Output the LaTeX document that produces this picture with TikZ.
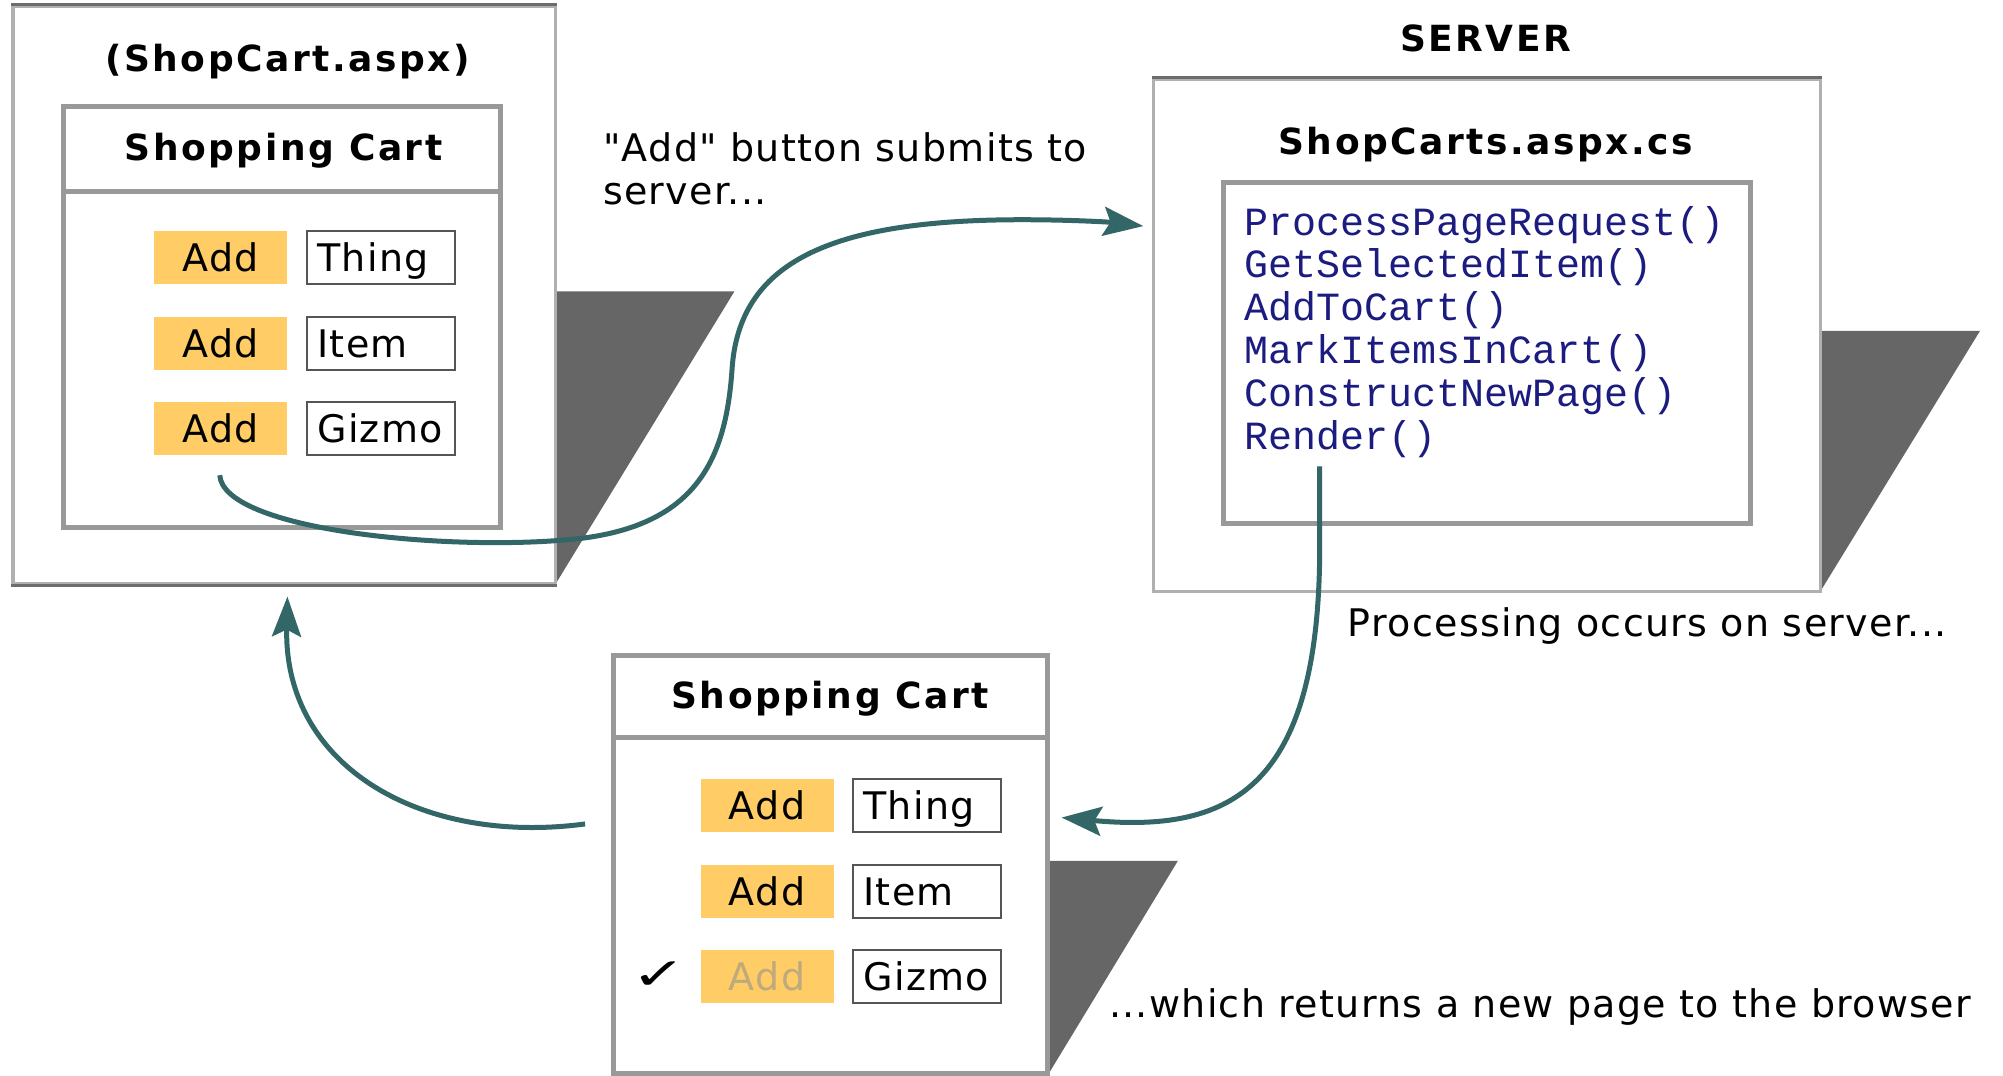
\documentclass[tikz,border=0pt]{standalone}
\usepackage{fontspec}
\setmainfont{DejaVu Sans}
\newfontfamily\vreg[LetterSpace=3.5]{DejaVu Sans}
\newfontfamily\vbold[LetterSpace=7]{DejaVu Sans Bold}
\newfontfamily\vmono{Liberation Mono}
\usetikzlibrary{fit,arrows.meta}
\definecolor{btnc}{RGB}{255,204,102}
\definecolor{arrowc}{RGB}{51,102,102}
\definecolor{codec}{RGB}{28,28,128}
\definecolor{shadc}{RGB}{102,102,102}
\definecolor{lbord}{RGB}{176,176,176}
\definecolor{dbord}{RGB}{108,108,108}
\definecolor{ibord}{RGB}{153,153,153}
\definecolor{itembord}{RGB}{85,85,85}
\definecolor{fadec}{RGB}{190,170,125}
\begin{document}
\begin{tikzpicture}[x=1.2774pt,y=-1.2774pt,
  page/.style={draw=lbord,line width=3.5pt,fill=white,inner sep=0pt},
  cartbox/.style={draw=ibord,line width=5pt,fill=white,inner sep=0pt},
  btn/.style={fill=btnc,minimum width=133pt,minimum height=53pt,inner sep=0pt,text height=31pt,text depth=3pt,font=\vreg\fontsize{38}{40}\selectfont},
  itembox/.style={draw=itembord,line width=2pt,fill=white,minimum height=53pt,text width=128pt,inner xsep=10pt,inner ysep=0pt,text height=31pt,text depth=3pt,align=left,font=\vreg\fontsize{38}{40}\selectfont},
  title/.style={font=\vbold\fontsize{36}{40}\selectfont},
  lbl/.style={font=\vreg\fontsize{38}{43.5}\selectfont,align=left,anchor=west,inner sep=0pt},
  code/.style={font=\vmono\fontsize{40}{43}\selectfont,text=codec,anchor=west,inner sep=0pt},
  conn/.style={draw=arrowc,line width=5pt,-{Stealth[length=40pt,width=29pt,inset=7pt]}},
  shad/.style={fill=shadc}]
\useasboundingbox (0,0) rectangle (1568,842);

% shadows
\fill[shad] (435,228) -- (575,228) -- (435,457) -- cycle;
\fill[shad] (1425,259) -- (1550,259) -- (1425,463) -- cycle;
\fill[shad] (820,674) -- (922,674) -- (820,842) -- cycle;

% client page
\node[page,fit={(10,5)(435,457)}] (client) {};
\draw[dbord,line width=3.5pt] (client.north west) -- (client.north east);
\draw[dbord,line width=3.5pt] (client.south west) -- (client.south east);
\node[title] (ctitle) at (225,48) {(ShopCart.aspx)};
\node[cartbox,fit={(50,83)(392,413)}] (cart1) {};
\draw[ibord,line width=5pt] (50,150) -- (392,150);
\node[title] (cart1t) at (222,118) {Shopping Cart};
\node[btn] (add1) at (173,201.5) {Add};
\node[btn] (add2) at (173,269) {Add};
\node[btn] (add3) at (173,335.5) {Add};
\node[itembox] (it1) at (298.5,201.5) {Thing};
\node[itembox] (it2) at (298.5,269) {Item};
\node[itembox] (it3) at (298.5,335.5) {Gizmo};

% label 1
\node[lbl] (lab1) at (472,132) {"Add" button submits to\\server...};

% server
\node[title] (srvlab) at (1163,30) {SERVER};
\node[page,fit={(903,62)(1425,463)}] (server) {};
\draw[dbord,line width=3.5pt] (server.north west) -- (server.north east);
\node[title] (stitle) at (1163,113) {ShopCarts.aspx.cs};
\node[cartbox,fit={(958,143)(1370,410)}] (codebox) {};
\node[code] (m1) at (974,176) {ProcessPageRequest()};
\node[code] (m2) at (974,209.5) {GetSelectedItem()};
\node[code] (m3) at (974,243) {AddToCart()};
\node[code] (m4) at (974,276.5) {MarkItemsInCart()};
\node[code] (m5) at (974,310) {ConstructNewPage()};
\node[code] (m6) at (974,343.5) {Render()};
\node[lbl] (lab2) at (1055,490) {Processing occurs on server...};

% new page
\node[cartbox,fit={(480,513)(820,840)}] (cart2) {};
\draw[ibord,line width=5pt] (480,577) -- (820,577);
\node[title] (cart2t) at (650,547) {Shopping Cart};
\node[btn] (badd1) at (600.5,630.5) {Add};
\node[btn] (badd2) at (600.5,697.5) {Add};
\node[btn,text=fadec] (badd3) at (600.5,764.5) {Add};
\node[itembox] (bit1) at (726,630.5) {Thing};
\node[itembox] (bit2) at (726,697.5) {Item};
\node[itembox] (bit3) at (726,764.5) {Gizmo};
\node[font=\fontsize{44}{44}\selectfont,inner sep=0pt] (check) at (516,764) {\scalebox{1.5}[1]{✓}};
\node[lbl] (lab3) at (868,788) {...which returns a new page to the browser};

% connectors
\coordinate (s1) at (172,372);
\coordinate (e1) at (895,177);
\draw[conn] (s1) .. controls (175,415) and (350,432) .. (450,422)
  .. controls (545,412) and (568,360) .. (573,290)
  .. controls (578,205) and (650,172) .. (800,172)
  .. controls (840,172) and (870,174) .. (e1);
\coordinate (s2) at (1033,365);
\coordinate (m2a) at (1033,440);
\coordinate (e2) at (831,640);
\draw[conn] (s2) -- (m2a) .. controls (1030,620) and (960,652) .. (e2);
\coordinate (s3) at (458,645);
\coordinate (e3) at (225,467);
\draw[conn] (s3) .. controls (330,662) and (222,600) .. (e3);
\end{tikzpicture}
\end{document}
